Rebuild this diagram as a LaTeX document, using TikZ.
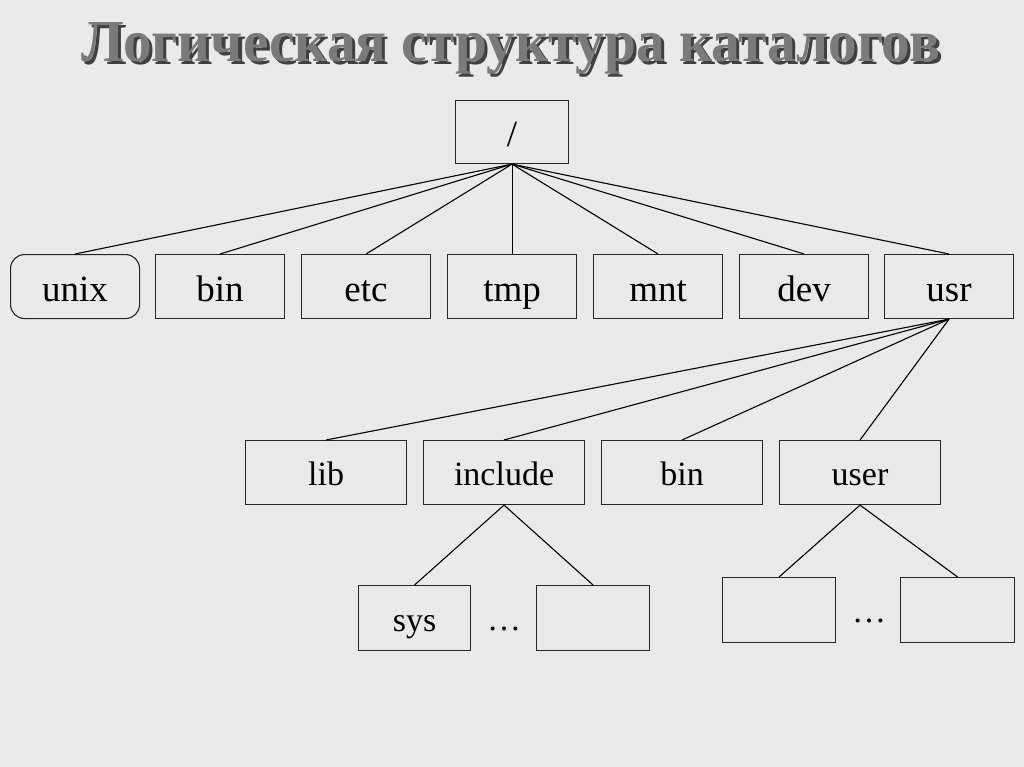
\documentclass[tikz,border=0pt]{standalone}
\usepackage{fontspec}
\setmainfont{Liberation Serif}
\usepackage{graphicx}
\newcommand{\titletext}{\resizebox{858pt}{39pt}{\bfseries\fontsize{56}{56}\selectfont Логическая структура каталогов}}
\newcommand{\shadowtitle}{\rlap{\hspace{3pt}\raisebox{-3pt}{\color{black!75}\titletext}}{\color{black!52}\titletext}}
\begin{document}
\begin{tikzpicture}[x=1pt,y=-1pt,
  box/.style={draw=black!85,line width=1.1pt,rectangle,inner sep=0pt,anchor=north west},
  big/.style={font=\fontsize{37}{37}\selectfont,text height=29pt,text depth=0pt},
  small/.style={font=\fontsize{34}{34}\selectfont,text height=26pt,text depth=0pt},
  link/.style={draw=black,line width=1.1pt}]
\fill[gray!17] (0,0) rectangle (1024,767);
\useasboundingbox (0,0) rectangle (1024,767);
% title with shadow
\node[anchor=base,inner sep=0pt] (title) at (511,62) {\shadowtitle};
% root
\node[box,minimum width=113pt,minimum height=63pt,big] (root) at (455,100) {/};
% row 2
\node[box,rounded corners=14pt,minimum width=129pt,minimum height=64pt,big] (unix) at (10,254) {unix};
\node[box,minimum width=129pt,minimum height=64pt,big] (bin) at (155,254) {bin};
\node[box,minimum width=129pt,minimum height=64pt,big] (etc) at (301,254) {etc};
\node[box,minimum width=129pt,minimum height=64pt,big] (tmp) at (447,254) {tmp};
\node[box,minimum width=129pt,minimum height=64pt,big] (mnt) at (593,254) {mnt};
\node[box,minimum width=129pt,minimum height=64pt,big] (dev) at (739,254) {dev};
\node[box,minimum width=129pt,minimum height=64pt,big] (usr) at (884,254) {usr};
% row 3
\node[box,minimum width=161pt,minimum height=64pt,small] (lib) at (245,440) {lib};
\node[box,minimum width=161pt,minimum height=64pt,small] (include) at (423,440) {include};
\node[box,minimum width=161pt,minimum height=64pt,small] (bin2) at (601,440) {bin};
\node[box,minimum width=161pt,minimum height=64pt,small] (user) at (779,440) {user};
% row 4
\node[box,minimum width=112pt,minimum height=65pt,small] (sys) at (358,585) {sys};
\node[box,minimum width=113pt,minimum height=65pt] (e1) at (536,585) {};
\node[box,minimum width=113pt,minimum height=65pt] (e2) at (722,577) {};
\node[box,minimum width=114pt,minimum height=65pt] (e3) at (900,577) {};
\node[small,anchor=center] (d1) at (504,617) {\ldots};
\node[small,anchor=center] (d2) at (869,609) {\ldots};
% links
\foreach \n in {unix,bin,etc,tmp,mnt,dev,usr}
  \draw[link] (root.south) -- (\n.north);
\foreach \n in {lib,include,bin2,user}
  \draw[link] (usr.south) -- (\n.north);
\draw[link] (include.south) -- (sys.north);
\draw[link] (include.south) -- (e1.north);
\draw[link] (user.south) -- (e2.north);
\draw[link] (user.south) -- (e3.north);
\end{tikzpicture}
\end{document}
